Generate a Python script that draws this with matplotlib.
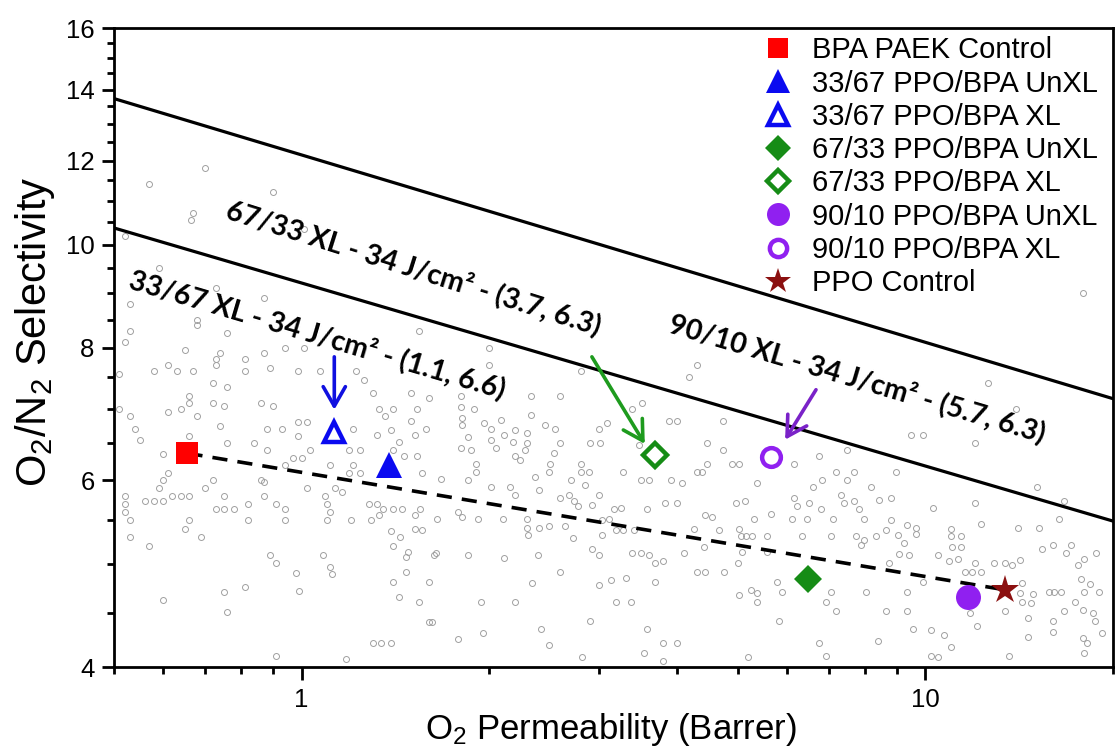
import matplotlib
matplotlib.use("Agg")
import matplotlib.pyplot as plt
from matplotlib.ticker import FixedLocator, FixedFormatter, NullFormatter

# ---------------- data ----------------
# literature (background) data: (O2 permeability [Barrer], O2/N2 selectivity)
literature_points = [
    (0.57, 11.4), (0.70, 11.8), (0.90, 11.2), (0.67, 10.7), (0.665, 10.55), (0.52, 10.2), (0.59, 9.5),
    (0.73, 9.1), (0.87, 8.9), (0.53, 8.8), (0.68, 8.5), (0.68, 8.4), (0.76, 8.25), (0.53, 8.3), (0.52, 8.1),
    (0.65, 7.95), (0.74, 7.9), (0.73, 7.8), (0.81, 7.8), (0.87, 7.9), (0.94, 8.0), (1.01, 8.0), (0.61, 7.7),
    (0.63, 7.6), (0.67, 7.6), (0.58, 7.6), (0.51, 7.55), (0.73, 7.7), (0.81, 7.6), (0.89, 7.65), (0.985, 7.6),
    (1.07, 7.6), (1.22, 7.6), (0.72, 7.4), (0.76, 7.35), (0.66, 7.2), (0.66, 7.1), (0.64, 7.0), (0.61, 6.95),
    (0.68, 6.9), (0.72, 7.1), (0.75, 7.05), (0.86, 7.1), (0.90, 7.05), (0.51, 7.0), (0.53, 6.9), (0.54, 6.7),
    (0.55, 6.55), (0.66, 6.6), (0.74, 6.75), (0.76, 6.5), (0.88, 6.7), (0.93, 6.7), (0.985, 6.8), (1.02, 6.8),
    (0.985, 6.6), (1.03, 6.4), (0.97, 6.3), (1.0, 6.3), (0.84, 6.5), (0.88, 6.4), (0.60, 6.35), (0.94, 6.2),
    (0.86, 6.0), (0.87, 5.97), (0.72, 6.0), (0.70, 5.9), (0.61, 6.1), (0.60, 6.0), (0.59, 5.9), (0.62, 5.8),
    (0.64, 5.8), (0.66, 5.8), (0.52, 5.8), (0.52, 5.7), (0.56, 5.73), (0.58, 5.73), (0.60, 5.73), (0.52, 5.6),
    (0.53, 5.5), (0.53, 5.3), (0.57, 5.2), (0.66, 5.5), (0.65, 5.4), (0.69, 5.3), (0.73, 5.63), (0.75, 5.63),
    (0.78, 5.63), (0.82, 5.5), (0.75, 5.8), (0.82, 5.7), (0.87, 5.8), (0.91, 5.7), (0.94, 5.63), (0.94, 5.5),
    (1.02, 5.9), (1.09, 5.8), (1.10, 5.7), (1.11, 5.6), (1.10, 5.5), (1.13, 5.9), (1.16, 5.85), (1.19, 6.1),
    (1.24, 6.1), (1.2, 5.5), (1.28, 5.7), (1.32, 5.7), (1.29, 5.5), (1.33, 5.56), (1.35, 5.63), (1.40, 5.63),
    (1.45, 5.63), (1.52, 5.56), (1.55, 5.63), (1.52, 5.4), (1.56, 5.38), (1.39, 5.37), (1.44, 5.3), (1.40, 5.2),
    (1.48, 5.13), (1.47, 5.08), (1.63, 5.1), (1.47, 4.92), (1.40, 4.81), (1.60, 4.81), (1.43, 4.66), (1.54, 4.61),
    (1.60, 4.41), (1.62, 4.41), (1.30, 4.21), (1.34, 4.21), (1.39, 4.21), (1.18, 4.07), (0.91, 4.1), (0.76, 4.51),
    (0.75, 4.71), (0.81, 4.76), (0.60, 4.63), (0.89, 5.1), (0.91, 5.01), (0.98, 4.91), (0.99, 4.72), (1.08, 5.1),
    (1.11, 4.97), (1.12, 4.89), (1.21, 6.2), (1.19, 6.4), (1.24, 6.4), (1.11, 6.2), (1.32, 6.62), (1.39, 6.69),
    (1.43, 6.52), (1.40, 6.4), (1.46, 6.32), (1.52, 6.62), (1.53, 6.32), (1.50, 6.82), (1.53, 7.0), (1.33, 7.0),
    (1.36, 6.9), (1.40, 7.0), (1.50, 7.25), (1.30, 7.25), (1.26, 7.45), (1.56, 6.1), (1.60, 7.17), (1.58, 6.71),
    (1.54, 8.3), (1.21, 6.71), (1.67, 6.02), (1.65, 5.52), (1.64, 5.12), (1.01, 10.35),
    (2.0, 8.0), (2.0, 7.7), (2.8, 7.6), (4.3, 7.7), (4.18, 7.5), (1.80, 7.2), (2.33, 7.2), (2.6, 7.2),
    (1.80, 7.03), (1.81, 6.87), (1.81, 6.76), (1.89, 7.0), (1.96, 6.79), (2.09, 6.84), (2.01, 6.71), (2.33, 6.91),
    (2.46, 6.76), (2.55, 6.71), (2.20, 6.69), (2.11, 6.62), (2.30, 6.64), (1.85, 6.59), (1.80, 6.43), (1.87, 6.41),
    (2.01, 6.55), (2.05, 6.43), (2.18, 6.52), (2.30, 6.5), (2.28, 6.41), (2.20, 6.32), (2.24, 6.27), (1.90, 6.22),
    (1.90, 6.11), (1.85, 6.0), (2.54, 6.36), (2.60, 6.5), (2.50, 6.22), (2.49, 6.11), (2.37, 6.04), (2.70, 6.0),
    (2.80, 6.22), (2.80, 6.11), (2.89, 6.11), (2.85, 5.94), (2.90, 6.5), (3.01, 6.5), (3.09, 6.79), (3.0, 6.71),
    (3.39, 7.0), (3.52, 7.09), (3.88, 6.82), (4.0, 6.82), (3.48, 6.48), (3.28, 6.11), (3.50, 6.0), (3.61, 6.0),
    (3.91, 6.0), (2.01, 5.91), (2.16, 5.91), (2.20, 5.81), (2.40, 5.87), (2.60, 5.77), (2.68, 5.81), (2.73, 5.73),
    (2.77, 5.67), (2.92, 5.69), (3.0, 5.81), (3.17, 5.63), (3.25, 5.65), (3.58, 5.63), (3.83, 5.71), (4.0, 5.71),
    (4.08, 5.96), (4.31, 6.11), (4.39, 6.11), (4.47, 6.22), (4.47, 6.5), (4.73, 6.41), (4.90, 6.22), (5.03, 6.22),
    (4.73, 6.82), (1.78, 5.6), (1.81, 5.54), (1.92, 5.52), (2.10, 5.52), (2.30, 5.52), (2.30, 5.41), (2.31, 5.33),
    (2.40, 5.41), (2.49, 5.43), (2.64, 5.43), (3.03, 5.5), (3.11, 5.52), (3.19, 5.39), (3.27, 5.39), (3.41, 5.39),
    (3.03, 5.33), (2.72, 5.29), (2.92, 5.17), (1.85, 5.1), (2.11, 5.07), (2.39, 5.1), (3.0, 5.1), (3.39, 5.12),
    (3.50, 5.12), (3.61, 5.1), (3.69, 5.01), (3.79, 5.03), (4.10, 5.12), (4.31, 4.92), (4.44, 4.92), (4.76, 4.92),
    (4.41, 5.19), (4.26, 5.4), (4.44, 5.56), (4.55, 5.54), (4.67, 5.39), (5.03, 5.4), (5.06, 5.31), (5.16, 5.31),
    (5.28, 5.31), (5.58, 5.31), (4.97, 5.71), (5.13, 5.73), (5.32, 5.52), (5.65, 5.58), (5.38, 5.96), (5.0, 5.01),
    (5.09, 5.13), (5.58, 5.13), (2.60, 4.92), (3.13, 4.83), (3.31, 4.85), (3.69, 4.81), (3.0, 4.78), (2.34, 4.8),
    (1.94, 4.61), (2.20, 4.61), (3.19, 4.61), (3.37, 4.61), (5.03, 4.68), (5.25, 4.73), (5.38, 4.70), (5.38, 4.61),
    (5.79, 4.81), (5.90, 4.71), (5.83, 4.42), (2.90, 4.42), (2.42, 4.34), (3.58, 4.34), (1.95, 4.31), (1.78, 4.25),
    (2.49, 4.2), (3.79, 4.21), (4.0, 4.21), (3.54, 4.12), (2.82, 4.09), (5.19, 4.09), (3.79, 4.05),
    (17.9, 9.0), (12.6, 7.4), (14.0, 7.0), (9.5, 6.62), (9.9, 6.62), (12.0, 6.51), (6.16, 6.22), (6.76, 6.32),
    (7.50, 6.41), (7.19, 6.11), (7.69, 6.11), (8.97, 6.11), (6.84, 6.0), (7.50, 6.0), (6.60, 5.91), (8.17, 5.91),
    (15.1, 5.91), (6.16, 5.77), (6.51, 5.71), (6.81, 5.63), (7.33, 5.81), (7.42, 5.71), (7.69, 5.73), (8.44, 5.75),
    (8.81, 5.77), (6.23, 5.67), (7.84, 5.63), (10.3, 5.65), (12.0, 5.71), (16.7, 5.73), (6.12, 5.52), (6.47, 5.52),
    (7.10, 5.52), (7.98, 5.52), (8.81, 5.5), (9.36, 5.44), (9.67, 5.41), (9.67, 5.34), (9.03, 5.33), (8.65, 5.39),
    (11.0, 5.4), (12.3, 5.46), (14.1, 5.41), (15.2, 5.41), (16.4, 5.52), (6.35, 5.31), (7.06, 5.31), (7.73, 5.31),
    (7.98, 5.27), (8.34, 5.31), (7.88, 5.21), (9.25, 5.23), (9.09, 5.11), (9.43, 5.1), (8.76, 5.01), (11.0, 5.31),
    (11.4, 5.31), (11.05, 5.19), (11.4, 5.19), (10.5, 5.1), (10.9, 5.03), (11.3, 5.06), (12.0, 5.01), (11.6, 4.92),
    (11.9, 4.92), (12.3, 4.92), (12.9, 5.01), (13.4, 5.01), (13.8, 4.99), (14.2, 5.05), (15.4, 5.17), (16.0, 5.21),
    (16.8, 5.12), (17.1, 5.21), (18.8, 5.12), (18.0, 5.06), (17.6, 4.99), (17.8, 4.84), (18.4, 4.79), (19.0, 4.71),
    (18.0, 4.71), (17.4, 4.61), (17.9, 4.53), (18.6, 4.5), (18.7, 4.42), (19.2, 4.31), (17.9, 4.26), (18.2, 4.21),
    (18.0, 4.12), (16.1, 4.71), (16.5, 4.71), (16.7, 4.52), (16.0, 4.42), (16.0, 4.32), (14.6, 4.45), (14.6, 4.27),
    (14.3, 4.80), (14.8, 4.60), (13.4, 4.52), (11.8, 4.50), (12.1, 4.37), (13.6, 4.10), (10.2, 4.10), (10.5, 4.09),
    (11.0, 4.18), (10.7, 4.29), (10.2, 4.33), (9.54, 4.34), (8.39, 4.23), (6.76, 4.21), (6.93, 4.10), (7.19, 4.52),
    (6.93, 4.61), (7.06, 4.71), (8.03, 4.71), (8.65, 4.52), (9.36, 4.71), (9.36, 4.52), (9.90, 4.81), (14.3, 4.61),
    (14.9, 4.69), (15.8, 4.71), (14.2, 4.70),
]
lit_P = [p for p, s in literature_points]
lit_sel = [s for p, s in literature_points]

# Robeson upper bounds (2008 upper line, 1991 lower line)
ub2008_P = [0.5, 20]
ub2008_sel = [13.73, 7.16]
ub1991_P = [0.5, 20]
ub1991_sel = [10.37, 5.49]

# membranes of this work
series_names = ["BPA PAEK Control", "33/67 PPO/BPA UnXL", "33/67 PPO/BPA XL",
                "67/33 PPO/BPA UnXL", "67/33 PPO/BPA XL", "90/10 PPO/BPA UnXL",
                "90/10 PPO/BPA XL", "PPO Control"]
series_P = [0.656, 1.378, 1.128, 6.49, 3.68, 11.7, 5.65, 13.4]
series_sel = [6.36, 6.20, 6.66, 4.84, 6.33, 4.66, 6.31, 4.73]

# dashed trend between the two controls
trend_P = [0.656, 13.4]
trend_sel = [6.36, 4.73]

# annotations: text, position (P, sel)
note_texts = ["33/67 XL - 34 J/cm\u00b2 - (1.1, 6.6)",
              "67/33 XL - 34 J/cm\u00b2 - (3.7, 6.3)",
              "90/10 XL - 34 J/cm\u00b2 - (5.7, 6.3)"]
note_P = [1.061, 1.513, 7.79]
note_sel = [8.22, 9.50, 7.48]

# arrows: tail -> head
arrow_tail_P = [1.128, 2.92, 6.68]
arrow_tail_sel = [7.84, 7.84, 7.30]
arrow_head_P = [1.128, 3.55, 5.96]
arrow_head_sel = [6.99, 6.49, 6.55]

x_major_ticks = [1, 10]
x_tick_labels = ["1", "10"]
x_minor_ticks = [0.5, 0.6, 0.7, 0.8, 0.9, 2, 3, 4, 5, 6, 7, 8, 9, 20]
y_major_ticks = [4, 6, 8, 10, 12, 14, 16]
y_tick_labels = ["4", "6", "8", "10", "12", "14", "16"]
y_minor_ticks = [4.5, 5, 5.5, 6.5, 7, 7.5, 8.5, 9, 9.5, 10.5, 11, 11.5, 12.5, 13, 13.5, 14.5, 15, 15.5]

# ---------------- style ----------------
plt.rcParams['font.family'] = ['Liberation Sans', 'DejaVu Sans']
plt.rcParams['mathtext.fontset'] = 'custom'
plt.rcParams['mathtext.rm'] = 'Liberation Sans'
plt.rcParams['mathtext.it'] = 'Liberation Sans:italic'
plt.rcParams['mathtext.bf'] = 'Liberation Sans:bold'

red = '#ff0000'
blue = '#0a0af0'
green = '#168c16'
purple = '#9020f0'
darkred = '#8b1010'

styles = [
    dict(marker='s', ms=15.5, mfc=red, mec=red, mew=0),
    dict(marker='^', ms=19, mfc=blue, mec=blue, mew=0),
    dict(marker='^', ms=15, mfc='white', mec=blue, mew=3.2),
    dict(marker='D', ms=14, mfc=green, mec=green, mew=0),
    dict(marker='D', ms=12, mfc='white', mec=green, mew=3.2),
    dict(marker='o', ms=18, mfc=purple, mec=purple, mew=0),
    dict(marker='o', ms=13.5, mfc='white', mec=purple, mew=3.2),
    dict(marker='*', ms=21, mfc=darkred, mec=darkred, mew=0),
]
arrow_colors = ['#1010e0', '#1e9b1e', '#7a22c8']
note_rotations = [-16.5, -17.5, -16.5]

fig = plt.figure(figsize=(11.15, 7.56), dpi=100)
ax = fig.add_axes([0.1022, 0.1177, 0.8960, 0.8452])
ax.set_xscale('log')
ax.set_yscale('log')

ax.plot(lit_P, lit_sel, ls='none', marker='o', ms=4.3, mfc='none', mec='#a0a0a0', mew=0.7, zorder=1)
ax.plot(ub2008_P, ub2008_sel, color='black', lw=2.3, zorder=2)
ax.plot(ub1991_P, ub1991_sel, color='black', lw=2.3, zorder=2)
ax.plot(trend_P, trend_sel, color='black', lw=2.6, ls=(0, (4.2, 2.8)), zorder=3)

for name, p, s, st in zip(series_names, series_P, series_sel, styles):
    ax.plot([p], [s], ls='none', label=name, zorder=5, **st)

for t, p, s, r in zip(note_texts, note_P, note_sel, note_rotations):
    ax.text(p, s, t, fontsize=20.5, fontweight='bold', family=['Lato', 'DejaVu Sans'],
            rotation=r, rotation_mode='anchor', ha='center', va='center', zorder=6)

for tp, ts, hp, hs, c in zip(arrow_tail_P, arrow_tail_sel, arrow_head_P, arrow_head_sel, arrow_colors):
    ax.annotate('', xy=(hp, hs), xytext=(tp, ts),
                arrowprops=dict(arrowstyle='->,head_length=0.7,head_width=0.4', color=c, lw=2.6,
                                shrinkA=0, shrinkB=0, mutation_scale=20), zorder=6)

ax.set_xlim(0.5, 20)
ax.set_ylim(4, 16)
ax.xaxis.set_major_locator(FixedLocator(x_major_ticks))
ax.xaxis.set_major_formatter(FixedFormatter(x_tick_labels))
ax.xaxis.set_minor_locator(FixedLocator(x_minor_ticks))
ax.xaxis.set_minor_formatter(NullFormatter())
ax.yaxis.set_major_locator(FixedLocator(y_major_ticks))
ax.yaxis.set_major_formatter(FixedFormatter(y_tick_labels))
ax.yaxis.set_minor_locator(FixedLocator(y_minor_ticks))
ax.yaxis.set_minor_formatter(NullFormatter())

ax.tick_params(which='both', direction='out', width=2, top=False, right=False, labelsize=18.5)
ax.tick_params(which='major', length=9)
ax.tick_params(which='minor', length=5)
ax.tick_params(axis='x', which='major', pad=6)
ax.tick_params(axis='y', which='major', pad=5)
for sp in ax.spines.values():
    sp.set_linewidth(2)

ax.set_xlabel('O$_2$ Permeability (Barrer)', fontsize=25)
ax.set_ylabel('O$_2$/N$_2$ Selectivity', fontsize=30)
ax.xaxis.set_label_coords(0.4975, -0.069)
ax.yaxis.set_label_coords(-0.057, 0.524)

ax.legend(loc='upper left', bbox_to_anchor=(0.650, 0.987), frameon=False, fontsize=21,
          handlelength=1.0, handletextpad=0.66, labelspacing=0.18, borderpad=0, borderaxespad=0,
          numpoints=1, markerscale=0.92)

fig.savefig('out.png', dpi=100)
